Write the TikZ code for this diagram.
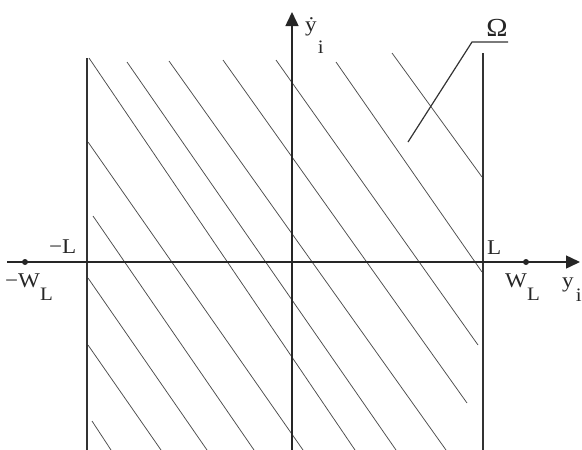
\documentclass[tikz,border=0pt]{standalone}
\usepackage{fontspec}
\setmainfont{Liberation Serif}[FakeStretch=1.1]
\usetikzlibrary{arrows.meta}
\newcommand\lowsub[2]{\raisebox{-#1}{\fontsize{19}{19}\selectfont #2}}
\begin{document}
\begin{tikzpicture}[x=1pt,y=-1pt,
  axis/.style={line width=1.5pt, draw=black!85},
  bound/.style={line width=1.6pt, draw=black!80},
  hatch/.style={line width=0.75pt, draw=black!70},
  leader/.style={line width=1.2pt, draw=black!80},
  lbl/.style={font=\fontsize{21}{21}\selectfont, inner sep=0pt, anchor=base west, text=black!85},
  dotn/.style={circle, fill=black!85, inner sep=0pt, minimum size=6pt},
  tip/.style={-{Triangle[length=14pt,width=13pt]}}
]
\useasboundingbox (0,0) rectangle (582,450);
% hatch lines
\draw[hatch] (92,421) -- (111,450);
\draw[hatch] (88,345) -- (161,450);
\draw[hatch] (88,278) -- (207,450);
\draw[hatch] (93,216) -- (254,450);
\draw[hatch] (88,142) -- (303,450);
\draw[hatch] (89,58) -- (355,450);
\draw[hatch] (127,62) -- (396,450);
\draw[hatch] (169,61) -- (446,450);
\draw[hatch] (223,60) -- (467,403);
\draw[hatch] (276,60) -- (478,345);
\draw[hatch] (336,62) -- (482,272);
\draw[hatch] (392,53) -- (482,177);
% boundary lines
\coordinate (lt) at (87,58);  \coordinate (lb) at (87,450);
\coordinate (rt) at (483,53); \coordinate (rb) at (483,450);
\draw[bound] (lt) -- (lb);
\draw[bound] (rt) -- (rb);
% axes
\coordinate (xs) at (7,262);   \coordinate (xe) at (580,262);
\coordinate (ys) at (292,450); \coordinate (ye) at (292,12);
\draw[axis,tip] (xs) -- (xe);
\draw[axis,tip] (ys) -- (ye);
% points
\node[dotn] (mwl) at (25,262) {};
\node[dotn] (pwl) at (526,262) {};
% labels
\node[lbl] (lml) at (49,253) {−L};
\node[lbl] (lpl) at (487,254) {L};
\node[lbl] (lmw) at (5,287) {−W\lowsub{13pt}{L}};
\node[lbl] (lpw) at (505,287) {W\lowsub{13pt}{L}};
\node[lbl] (lyi) at (562,287) {y\kern2pt\lowsub{14pt}{i}};
\node[lbl] (lyd) at (305,31) {\.{y}\kern1pt\lowsub{22pt}{i}};
% Omega with leader
\node[lbl, anchor=base, font=\fontsize{26}{26}\selectfont] (om) at (497,36) {Ω};
\coordinate (la) at (408,142);
\coordinate (lk) at (472,42);
\coordinate (le) at (508,42);
\draw[leader] (la) -- (lk) -- (le);
\end{tikzpicture}
\end{document}
